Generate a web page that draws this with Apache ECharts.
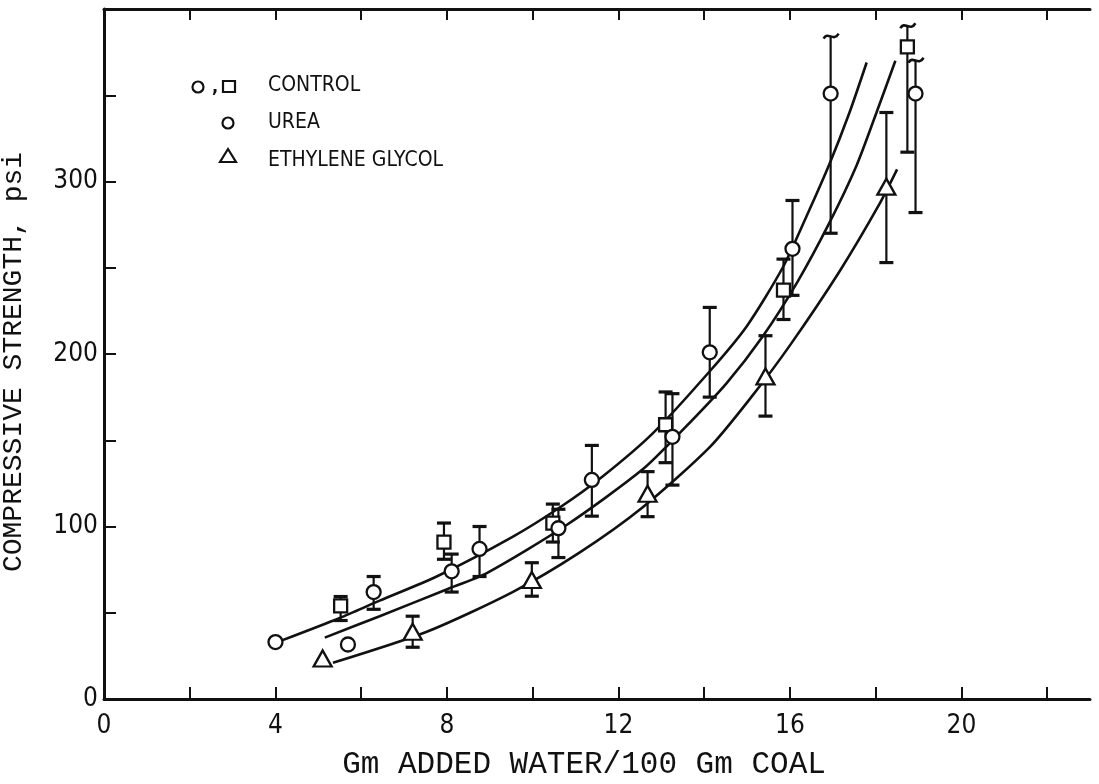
<!DOCTYPE html>
<html>
<head>
<meta charset="utf-8">
<script src="https://cdn.jsdelivr.net/npm/echarts@6/dist/echarts.min.js"></script>
<style>html,body{margin:0;padding:0;background:#fff}#chart{width:1099px;height:784px}</style>
</head>
<body>
<div id="chart"></div>
<script>
// ---- tick labels ----
var xTickValues = [0, 2, 4, 6, 8, 10, 12, 14, 16, 18, 20, 22];
var xLabelValues = [0, 4, 8, 12, 16, 20];
var yTickValues = [0, 50, 100, 150, 200, 250, 300, 350];
var yLabelValues = [0, 100, 200, 300];

// ---- data points ----
var ctrlCircleX  = [4.0, 6.29, 8.76, 11.38, 14.13, 16.95];
var ctrlCircleY  = [33, 62, 87, 127, 201, 351];
var ctrlCircleLo = [null, 52, 71, 106, 175, 270];
var ctrlCircleHi = [null, 71, 100, 147, 227, 384];
var ctrlCircleBrk = [0, 0, 0, 0, 0, 1];

var ctrlSquareX  = [5.52, 7.93, 10.47, 13.10, 15.85, 18.74];
var ctrlSquareY  = [54, 91, 102, 159, 237, 378];
var ctrlSquareLo = [45.5, 81, 91, 137, 220, 317];
var ctrlSquareHi = [59.4, 102, 113, 178, 255, 390];
var ctrlSquareBrk = [0, 0, 0, 0, 0, 1];

var ureaX  = [5.69, 8.11, 10.60, 13.26, 16.06, 18.93];
var ureaY  = [31.6, 74, 99, 152, 261, 351];
var ureaLo = [null, 62, 82, 124, 234, 282];
var ureaHi = [null, 84, 110, 177, 289, 370];
var ureaBrk = [0, 0, 0, 0, 0, 1];

var glycolX  = [5.10, 7.20, 9.98, 12.68, 15.43, 18.25];
var glycolY  = [23.5, 39, 69, 119, 187, 297];
var glycolLo = [null, 30, 59.6, 105.7, 164, 253];
var glycolHi = [null, 48, 79, 131.8, 210.6, 340];
var glycolBrk = [0, 0, 0, 0, 0, 0];

// ---- fitted curves ----
var topCurveX = [4.15, 5.5, 6.43, 7.76, 9.53, 10.63, 11.63, 12.8, 14.13, 14.99, 15.83, 16.39, 16.92, 17.39, 17.79];
var topCurveY = [34, 47, 57, 71, 94, 111, 129, 154, 190, 216, 250, 280, 310, 340, 369];
var midCurveX = [5.15, 6.43, 7.99, 8.93, 10.8, 12.56, 13.5, 14.52, 15.36, 16.18, 16.92, 17.55, 18.02, 18.46];
var midCurveY = [35.6, 48, 63.5, 73, 101, 133, 156, 183, 210, 242, 276, 309, 340, 370];
var lowCurveX = [5.34, 7.53, 9.53, 11.1, 12.56, 14.13, 15.13, 16.0, 17.16, 18.09, 18.5];
var lowCurveY = [21, 39, 62, 85, 111, 146, 176, 205, 248, 287, 307];

function zip(xs, ys) { return xs.map(function (x, i) { return [x, ys[i]]; }); }
function errData(xs, lo, hi, brk) {
  var out = [];
  xs.forEach(function (x, i) { if (lo[i] != null) out.push([x, lo[i], hi[i], brk[i]]); });
  return out;
}
var allErr = [].concat(
  errData(ctrlCircleX, ctrlCircleLo, ctrlCircleHi, ctrlCircleBrk),
  errData(ctrlSquareX, ctrlSquareLo, ctrlSquareHi, ctrlSquareBrk),
  errData(ureaX, ureaLo, ureaHi, ureaBrk),
  errData(glycolX, glycolLo, glycolHi, glycolBrk)
);

var numFont = "'Liberation Sans Narrow', 'DejaVu Sans Condensed', 'Liberation Sans', sans-serif";
var monoFont = "'Liberation Mono', 'DejaVu Sans Mono', monospace";
var black = '#111';

var chart = echarts.init(document.getElementById('chart'), null, { renderer: 'canvas' });

var lineStyle = { color: black, width: 2.6 };
var markerStyle = { color: '#fff', borderColor: black, borderWidth: 2.3, opacity: 1 };

var option = {
  backgroundColor: '#fff',
  animation: false,
  grid: { left: 104, right: 9, top: 9, bottom: 85, containLabel: false, outerBoundsMode: 'none' },
  xAxis: [
    {
      type: 'value', position: 'bottom', min: 0, max: 23, interval: 2,
      axisLine: { show: true, lineStyle: { color: black, width: 3 } },
      axisTick: { show: true, inside: true, length: 12, customValues: xTickValues, lineStyle: { color: black, width: 2 } },
      axisLabel: { show: true, customValues: xLabelValues, margin: 14, color: black, fontSize: 26, fontFamily: numFont },
      splitLine: { show: false },
      name: 'Gm ADDED WATER/100 Gm COAL',
      nameLocation: 'middle', nameGap: 50,
      nameTextStyle: { color: black, fontSize: 31, fontFamily: monoFont, padding: [0, 0, 0, -26] }
    },
    {
      type: 'value', position: 'top', min: 0, max: 23, interval: 2,
      axisLine: { show: true, lineStyle: { color: black, width: 3 } },
      axisTick: { show: true, inside: true, length: 11, customValues: xTickValues, lineStyle: { color: black, width: 2 } },
      axisLabel: { show: false },
      splitLine: { show: false }
    }
  ],
  yAxis: [
    {
      type: 'value', min: 0, max: 400, interval: 50,
      axisLine: { show: true, lineStyle: { color: black, width: 3 } },
      axisTick: { show: true, inside: true, length: 12, customValues: yTickValues, lineStyle: { color: black, width: 2 } },
      axisLabel: { show: true, customValues: yLabelValues, margin: 6, color: black, fontSize: 26, fontFamily: numFont },
      splitLine: { show: false },
      name: 'COMPRESSIVE STRENGTH, psi',
      nameLocation: 'middle', nameGap: 76, nameRotate: 90,
      nameTextStyle: { color: black, fontSize: 28, fontFamily: monoFont, padding: [0, 16, 0, 0] }
    }
  ],
  series: [
    { type: 'line', data: zip(topCurveX, topCurveY), showSymbol: false, symbol: 'none', smooth: 0.25, lineStyle: lineStyle, z: 2 },
    { type: 'line', data: zip(midCurveX, midCurveY), showSymbol: false, symbol: 'none', smooth: 0.25, lineStyle: lineStyle, z: 2 },
    { type: 'line', data: zip(lowCurveX, lowCurveY), showSymbol: false, symbol: 'none', smooth: 0.25, lineStyle: lineStyle, z: 2 },
    {
      type: 'custom', data: allErr, z: 3,
      encode: { x: 0, y: [1, 2] },
      renderItem: function (params, api) {
        var x = api.value(0), lo = api.value(1), hi = api.value(2), brk = api.value(3);
        var a = api.coord([x, lo]), b = api.coord([x, hi]);
        var w = 7;
        var st = { stroke: black, lineWidth: 2.2, fill: null };
        var capSt = { stroke: black, lineWidth: 3.2, fill: null };
        var ch = [
          { type: 'line', shape: { x1: a[0], y1: a[1], x2: b[0], y2: b[1] }, style: st },
          { type: 'line', shape: { x1: a[0] - w, y1: a[1], x2: a[0] + w, y2: a[1] }, style: capSt }
        ];
        if (brk) {
          ch.push({ type: 'bezierCurve', shape: { x1: b[0] - 7, y1: b[1] + 2, cpx1: b[0] - 3, cpy1: b[1] - 6, cpx2: b[0] + 3, cpy2: b[1] + 6, x2: b[0] + 8, y2: b[1] - 3 }, style: { stroke: black, lineWidth: 2.6, fill: null } });
        } else {
          ch.push({ type: 'line', shape: { x1: b[0] - w, y1: b[1], x2: b[0] + w, y2: b[1] }, style: capSt });
        }
        return { type: 'group', children: ch };
      }
    },
    { name: 'CONTROL', type: 'scatter', data: zip(ctrlCircleX, ctrlCircleY), symbol: 'circle', symbolSize: 14, itemStyle: markerStyle, z: 5 },
    { name: 'CONTROL', type: 'scatter', data: zip(ctrlSquareX, ctrlSquareY), symbol: 'rect', symbolSize: 13, itemStyle: markerStyle, z: 5 },
    { name: 'UREA', type: 'scatter', data: zip(ureaX, ureaY), symbol: 'circle', symbolSize: 14, itemStyle: markerStyle, z: 5 },
    { name: 'ETHYLENE GLYCOL', type: 'scatter', data: zip(glycolX, glycolY), symbol: 'triangle', symbolSize: [18, 16], itemStyle: markerStyle, z: 5 }
  ],
  graphic: [
    { type: 'circle', shape: { cx: 198, cy: 87, r: 5.5 }, style: { fill: '#fff', stroke: black, lineWidth: 2.2 } },
    { type: 'text', x: 212, y: 78, style: { text: ',', font: 'bold 18px ' + numFont, fill: black } },
    { type: 'rect', shape: { x: 223, y: 81, width: 12, height: 11 }, style: { fill: '#fff', stroke: black, lineWidth: 2.2 } },
    { type: 'text', x: 268, y: 86, style: { text: 'CONTROL', font: '21px ' + numFont, fill: black, verticalAlign: 'middle' } },
    { type: 'circle', shape: { cx: 228, cy: 123, r: 5.5 }, style: { fill: '#fff', stroke: black, lineWidth: 2.2 } },
    { type: 'text', x: 268, y: 123, style: { text: 'UREA', font: '21px ' + numFont, fill: black, verticalAlign: 'middle' } },
    { type: 'polygon', shape: { points: [[220, 162], [236, 162], [228, 149]] }, style: { fill: '#fff', stroke: black, lineWidth: 2.2 } },
    { type: 'text', x: 268, y: 161, style: { text: 'ETHYLENE GLYCOL', font: '21px ' + numFont, fill: black, verticalAlign: 'middle' } }
  ]
};
chart.setOption(option);
</script>
</body>
</html>
